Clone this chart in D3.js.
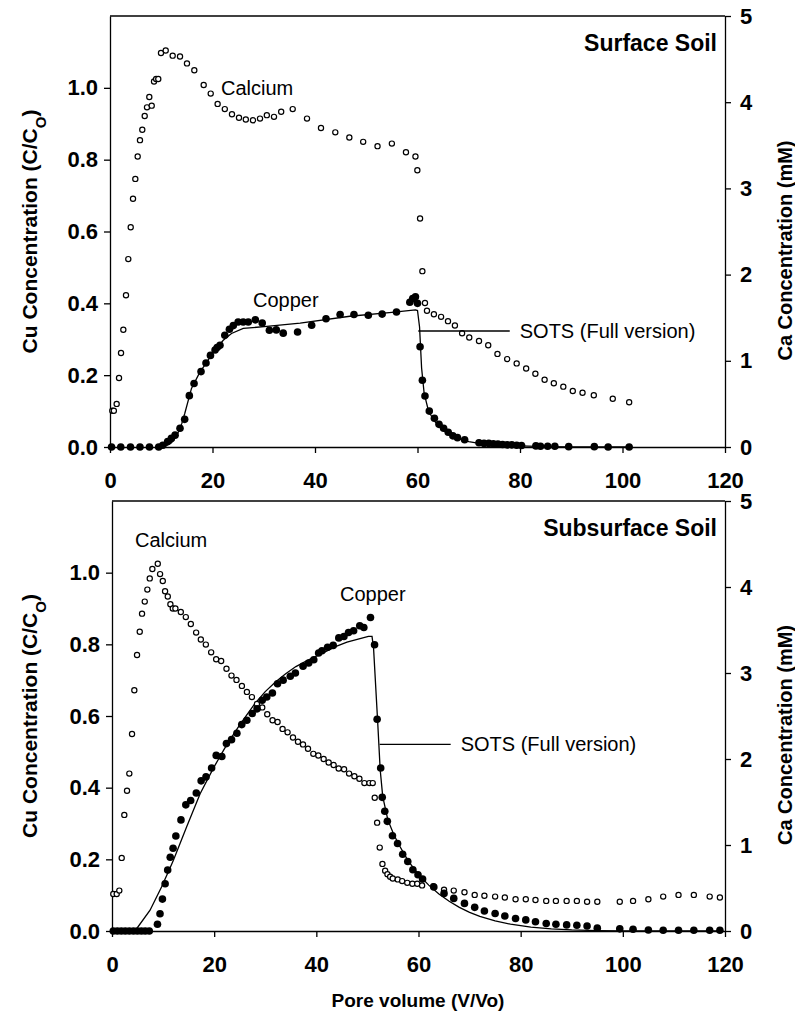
<!DOCTYPE html>
<html>
<head>
    <meta charset="utf-8">
    <script src="https://d3js.org/d3.v7.min.js"></script>
    <style>
        body, html {
            margin: 0;
            background: #fff;
        }
        svg text { font-family: "Liberation Sans", Arial, sans-serif; fill: #000; }
        .tick text { font-weight: bold; font-size: 22px; }
        .axis path, .axis line { stroke: #000; stroke-width: 1.3; }
    </style>
</head>
<body>
<div id="chart"></div>
<script>
    // pore volume (V/Vo) against Cu (C/Co) and Ca (mM)
    const surfaceCu = [[0.3,0],[2.1,0],[4.0,0],[5.85,0],[7.7,0],[9.5,0],[10.3,0.005],[11.25,0.015],[11.97,0.024],[12.7,0.033],
        [13.66,0.052],[14.57,0.077],[15.48,0.143],[16.4,0.177],[17.76,0.21],[18.73,0.234],[19.6,0.255],[20.5,0.27],[20.9,0.277],
        [21.46,0.283],[22.4,0.311],[23.3,0.328],[24.06,0.338],[25.0,0.348],[26.0,0.348],[26.98,0.348],[28.36,0.354],[29.7,0.345],
        [31.1,0.325],[32.45,0.326],[33.8,0.317],[36.6,0.32],[39.35,0.339],[42.15,0.357],[44.9,0.369],[47.6,0.369],[50.4,0.367],
        [53.1,0.370],[55.9,0.376],[58.5,0.403],[59.06,0.413],[59.6,0.418],[60.0,0.40],[60.5,0.279],[60.95,0.186],[61.46,0.142],
        [62.3,0.10],[63.3,0.08],[64.2,0.063],[65.1,0.052],[66.0,0.041],[66.9,0.031],[67.8,0.026],[69.2,0.020],[72.0,0.012],
        [72.98,0.010],[73.9,0.010],[74.8,0.009],[75.7,0.008],[76.6,0.007],[77.5,0.006],[78.4,0.006],[79.35,0.005],[80.3,0.004],
        [83.1,0.003],[84.0,0.002],[85.4,0.002],[86.8,0.002],[89.5,0.001],[94.5,0.001],[97.2,0],[101.3,0]];

    const surfaceCa = [[0.45,0.42],[0.75,0.42],[1.3,0.50],[1.76,0.80],[2.15,1.09],[2.6,1.36],[3.12,1.76],[3.57,2.18],[4.04,2.55],
        [4.49,2.88],[4.94,3.11],[5.4,3.37],[5.85,3.56],[6.3,3.68],[6.77,3.84],[7.22,3.94],[7.67,4.06],[8.14,3.96],[8.59,4.24],
        [9.0,4.27],[9.42,4.27],[9.95,4.57],[10.87,4.60],[12.23,4.54],[13.66,4.53],[15.02,4.45],[16.45,4.37],[18.28,4.20],
        [19.65,4.10],[21.0,3.98],[22.4,3.92],[23.8,3.86],[25.17,3.82],[26.5,3.80],[27.9,3.79],[29.27,3.81],[30.6,3.85],[32.0,3.83],
        [33.4,3.89],[35.65,3.92],[38.44,3.81],[41.17,3.70],[43.96,3.65],[46.7,3.59],[49.4,3.54],[52.2,3.49],[55.0,3.52],
        [57.75,3.42],[59.6,3.37],[59.97,3.21],[60.5,2.65],[60.95,2.04],[61.46,1.67],[61.85,1.58],[63.2,1.54],[64.6,1.51],
        [65.95,1.46],[67.3,1.41],[68.7,1.32],[70.1,1.27],[72.0,1.23],[73.8,1.18],[75.6,1.08],[77.5,1.02],[79.35,0.97],[81.2,0.91],
        [83.0,0.85],[84.8,0.78],[86.6,0.74],[88.45,0.70],[90.3,0.65],[92.2,0.63],[94.4,0.60],[98.1,0.56],[101.3,0.52]];

    const surfaceModel = [[9.5,0],[11,0.004],[12,0.012],[13,0.03],[14,0.065],[14.6,0.094],[15.9,0.163],[17.56,0.209],[18.5,0.228],
        [20.2,0.265],[22.1,0.297],[23.7,0.316],[26.0,0.33],[30.6,0.336],[37.1,0.345],[46.8,0.364],[55,0.375],[59.6,0.382],[60.0,0.38],
        [60.4,0.334],[60.8,0.22],[61.3,0.149],[62.1,0.103],[63,0.078],[64,0.06],[65,0.047],[66,0.037],[67,0.029],[68,0.023],
        [70,0.015],[72,0.01],[75,0.006],[80,0.003],[85,0.001],[90,0],[101.3,0]];

    const subsurfaceCu = [[0.25,0],[1.04,0],[1.82,0],[2.6,0],[3.4,0],[4.2,0],[4.97,0],[5.75,0],[6.5,0],[7.3,0],[8.9,0.019],
        [9.4,0.048],[9.87,0.089],[10.4,0.132],[10.9,0.17],[11.4,0.206],[11.96,0.231],[12.5,0.265],[13.5,0.31],[14.45,0.352],
        [15.4,0.364],[16.5,0.385],[17.45,0.419],[18.4,0.43],[19.5,0.455],[20.4,0.49],[21.5,0.487],[22.4,0.523],[23.4,0.534],
        [24.45,0.552],[25.4,0.576],[26.4,0.588],[27.45,0.607],[28.4,0.62],[29.4,0.644],[30.3,0.653],[31.4,0.664],[32.4,0.69],
        [33.5,0.70],[34.9,0.711],[35.9,0.72],[37.4,0.739],[38.5,0.748],[39.5,0.757],[40.45,0.776],[41.1,0.782],[42.2,0.792],
        [43.3,0.797],[44.4,0.818],[45.4,0.822],[46.3,0.833],[47.3,0.838],[48.5,0.852],[49.3,0.847],[50.6,0.875],[51.4,0.799],
        [51.9,0.591],[52.6,0.455],[52.9,0.373],[53.4,0.334],[53.9,0.306],[54.9,0.266],[55.9,0.244],[56.9,0.214],[57.9,0.194],
        [58.9,0.171],[59.9,0.157],[60.8,0.145],[63.0,0.123],[65.0,0.105],[66.9,0.091],[69.0,0.077],[71.0,0.066],[72.9,0.056],
        [75.0,0.049],[76.9,0.042],[79.0,0.035],[81.0,0.031],[82.9,0.026],[85.0,0.021],[86.9,0.019],[89.0,0.017],[91.0,0.016],
        [93.0,0.014],[95.0,0.008],[99.4,0.006],[102,0.005],[105,0.003],[107.9,0.002],[110.9,0.002],[113.9,0.002],[117,0.002],[119,0.002]];

    const subsurfaceCa = [[0.25,0.43],[0.92,0.43],[1.43,0.47],[1.9,0.85],[2.41,1.35],[2.94,1.63],[3.39,1.83],[3.92,2.29],[4.37,2.80],
        [4.9,3.21],[5.43,3.48],[5.88,3.69],[6.41,3.83],[6.92,3.97],[7.39,4.10],[7.9,4.21],[8.96,4.27],[9.41,4.15],[9.94,4.07],
        [10.39,3.95],[10.92,3.89],[11.43,3.80],[11.9,3.75],[12.41,3.75],[13.47,3.71],[14.45,3.65],[15.43,3.57],[16.47,3.47],
        [17.39,3.39],[18.37,3.33],[19.41,3.24],[20.39,3.16],[21.37,3.14],[22.41,3.05],[23.39,2.97],[24.37,2.92],[25.43,2.85],
        [26.41,2.78],[27.39,2.72],[28.37,2.64],[29.41,2.60],[30.39,2.52],[31.43,2.45],[32.41,2.43],[33.39,2.35],[34.37,2.31],
        [35.43,2.25],[36.41,2.20],[37.39,2.17],[38.37,2.12],[39.41,2.06],[40.39,2.04],[41.43,2.00],[42.41,1.96],[43.39,1.93],
        [44.37,1.89],[45.43,1.88],[46.41,1.83],[47.45,1.80],[48.43,1.77],[49.41,1.72],[50.39,1.72],[51.04,1.72],[51.43,1.55],
        [51.9,1.26],[52.41,0.97],[52.94,0.78],[53.47,0.70],[53.92,0.66],[54.45,0.63],[54.96,0.61],[55.94,0.60],[56.8,0.58],
        [57.8,0.56],[58.8,0.55],[59.75,0.55],[60.7,0.53],[62.9,0.52],[65.0,0.48],[66.9,0.47],[69.0,0.45],[71.0,0.42],[72.9,0.41],
        [75.0,0.40],[76.9,0.39],[79.0,0.37],[81.0,0.37],[82.9,0.36],[85.0,0.35],[86.9,0.35],[89.0,0.35],[91.0,0.35],[93.0,0.34],
        [95.0,0.34],[99.4,0.34],[102.0,0.35],[105.0,0.37],[107.9,0.40],[110.9,0.42],[113.9,0.42],[117.0,0.40],[119.0,0.39]];

    const subsurfaceModel = [[4.5,0],[7.45,0.058],[9.7,0.123],[12.0,0.197],[14.6,0.29],[17.25,0.383],[19.9,0.456],[22.5,0.521],
        [25.1,0.577],[28,0.635],[30,0.668],[32,0.695],[34,0.718],[36,0.738],[38,0.753],[40,0.767],[42,0.781],[44,0.795],[46,0.806],
        [48,0.814],[50.2,0.822],[50.9,0.822],[51.2,0.79],[52.0,0.586],[52.5,0.45],[53,0.375],[54,0.31],[55,0.275],[56,0.245],
        [58,0.195],[60,0.158],[62,0.128],[64,0.103],[66,0.083],[68,0.066],[70,0.052],[72,0.041],[75,0.028],[78,0.019],[82,0.011],
        [86,0.006],[90,0.003],[95,0.001],[100,0],[119,0]];

    const xTicks = [0, 20, 40, 60, 80, 100, 120];
    const cuTicks = [0, 0.2, 0.4, 0.6, 0.8, 1.0];
    const caTicks = [0, 1, 2, 3, 4, 5];

    const width = 795, height = 1019;

    const svg = d3.select("#chart").append("svg")
        .attr("width", width)
        .attr("height", height);

    function drawPanel(p) {
        const x = d3.scaleLinear().domain([0, 120]).range([p.left, p.right]);
        const yCu = d3.scaleLinear().domain([0, 1.2]).range([p.bottom, p.top]);
        const yCa = d3.scaleLinear().domain([0, 5]).range([p.bottom, p.top]);
        const g = svg.append("g");

        // top frame line
        g.append("line")
            .attr("x1", p.left).attr("x2", p.right)
            .attr("y1", p.top).attr("y2", p.top)
            .attr("stroke", "#000").attr("stroke-width", 1.3);

        g.append("g").attr("class", "axis")
            .attr("transform", `translate(0,${p.bottom})`)
            .call(d3.axisBottom(x).tickValues(xTicks).tickSize(6).tickSizeOuter(0).tickPadding(19).tickFormat(d3.format("d")));

        g.append("g").attr("class", "axis")
            .attr("transform", `translate(${p.left},0)`)
            .call(d3.axisLeft(yCu).tickValues(cuTicks).tickSize(6).tickSizeOuter(0).tickPadding(6).tickFormat(d3.format(".1f")));

        g.append("g").attr("class", "axis")
            .attr("transform", `translate(${p.right},0)`)
            .call(d3.axisRight(yCa).tickValues(caTicks).tickSize(6).tickSizeOuter(0).tickPadding(9).tickFormat(d3.format("d")));

        // model curve
        g.append("path")
            .datum(p.model)
            .attr("fill", "none")
            .attr("stroke", "#000")
            .attr("stroke-width", 1.3)
            .attr("d", d3.line().x(d => x(d[0])).y(d => yCu(d[1])));

        // calcium, open circles
        g.selectAll(".ca").data(p.ca).join("circle")
            .attr("cx", d => x(d[0]))
            .attr("cy", d => yCa(d[1]))
            .attr("r", 2.6)
            .attr("fill", "#fff")
            .attr("stroke", "#000")
            .attr("stroke-width", 1.2);

        // copper, filled circles
        g.selectAll(".cu").data(p.cu).join("circle")
            .attr("cx", d => x(d[0]))
            .attr("cy", d => yCu(d[1]))
            .attr("r", 3.8)
            .attr("fill", "#000");

        // SOTS pointer
        g.append("line")
            .attr("x1", x(p.sots[0])).attr("x2", x(p.sots[1]))
            .attr("y1", yCu(p.sots[2])).attr("y2", yCu(p.sots[2]))
            .attr("stroke", "#000").attr("stroke-width", 1.3);
        g.append("text")
            .attr("x", x(p.sots[1]) + 10)
            .attr("y", yCu(p.sots[2]))
            .attr("dy", "0.35em")
            .style("font-size", "20px")
            .text("SOTS (Full version)");

        g.append("text").attr("x", p.caLabel[0]).attr("y", p.caLabel[1]).attr("dy", "0.35em")
            .style("font-size", "20px").text("Calcium");
        g.append("text").attr("x", p.cuLabel[0]).attr("y", p.cuLabel[1]).attr("dy", "0.35em")
            .style("font-size", "20px").text("Copper");

        g.append("text")
            .attr("x", p.right - 8).attr("y", p.top + 27)
            .attr("dy", "0.35em")
            .attr("text-anchor", "end")
            .style("font-size", "23px").style("font-weight", "bold")
            .text(p.title);

        // axis titles
        const cy = (p.top + p.bottom) / 2;
        const lt = g.append("text")
            .attr("transform", `translate(30,${cy}) rotate(-90)`)
            .attr("text-anchor", "middle")
            .attr("dy", "0.35em")
            .style("font-size", "21px").style("font-weight", "bold");
        lt.append("tspan").text("Cu Concentration (C/C");
        lt.append("tspan").attr("baseline-shift", "sub").style("font-size", "15px").text("O");
        lt.append("tspan").text(")");

        g.append("text")
            .attr("transform", `translate(785,${cy + 19}) rotate(-90)`)
            .attr("text-anchor", "middle")
            .attr("dy", "0.35em")
            .style("font-size", "20px").style("font-weight", "bold")
            .text("Ca Concentration (mM)");
    }

    drawPanel({
        left: 110, right: 725, top: 16, bottom: 447,
        cu: surfaceCu, ca: surfaceCa, model: surfaceModel,
        sots: [60.15, 78.0, 0.323],
        caLabel: [221, 88], cuLabel: [253, 300],
        title: "Surface Soil"
    });

    drawPanel({
        left: 112, right: 725, top: 501, bottom: 931,
        cu: subsurfaceCu, ca: subsurfaceCa, model: subsurfaceModel,
        sots: [52.4, 66.3, 0.521],
        caLabel: [135, 540], cuLabel: [340, 594],
        title: "Subsurface Soil"
    });

    svg.append("text")
        .attr("x", 418).attr("y", 1000)
        .attr("text-anchor", "middle")
        .attr("dy", "0.35em")
        .style("font-size", "19px").style("font-weight", "bold")
        .text("Pore volume (V/Vo)");
</script>
</body>
</html>
